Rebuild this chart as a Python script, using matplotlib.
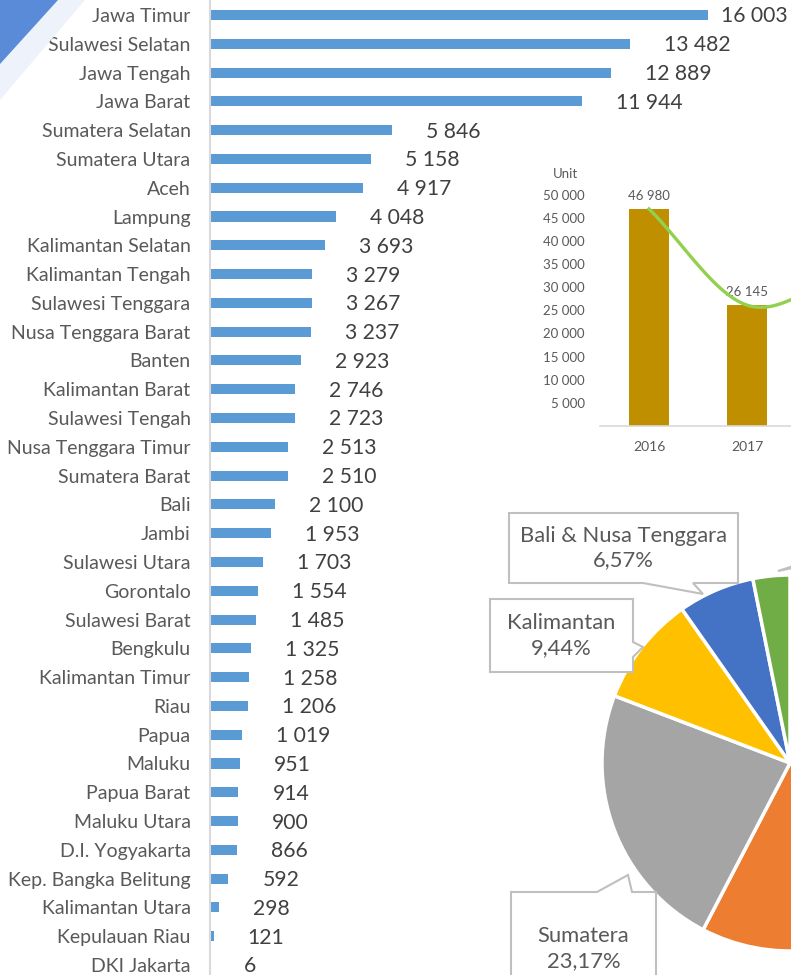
import numpy as np
import matplotlib
matplotlib.use("Agg")
import matplotlib.pyplot as plt
from matplotlib.patches import Polygon

plt.rcParams["font.family"] = ["Lato", "DejaVu Sans"]

# units per province
provinces = [
    "Jawa Timur", "Sulawesi Selatan", "Jawa Tengah", "Jawa Barat", "Sumatera Selatan",
    "Sumatera Utara", "Aceh", "Lampung", "Kalimantan Selatan", "Kalimantan Tengah",
    "Sulawesi Tenggara", "Nusa Tenggara Barat", "Banten", "Kalimantan Barat",
    "Sulawesi Tengah", "Nusa Tenggara Timur", "Sumatera Barat", "Bali", "Jambi",
    "Sulawesi Utara", "Gorontalo", "Sulawesi Barat", "Bengkulu", "Kalimantan Timur",
    "Riau", "Papua", "Maluku", "Papua Barat", "Maluku Utara", "D.I. Yogyakarta",
    "Kep. Bangka Belitung", "Kalimantan Utara", "Kepulauan Riau", "DKI Jakarta",
]
units = [
    16003, 13482, 12889, 11944, 5846, 5158, 4917, 4048, 3693, 3279, 3267, 3237,
    2923, 2746, 2723, 2513, 2510, 2100, 1953, 1703, 1554, 1485, 1325, 1258,
    1206, 1019, 951, 914, 900, 866, 592, 298, 121, 6,
]

# yearly totals (2018 is off the crop, estimated from the curve)
years = ["2016", "2017", "2018"]
year_units = [46980, 26145, 33000]

# regional totals for the pie
regions = ["Sulawesi", "Jawa", "Sumatera", "Kalimantan", "Bali & Nusa Tenggara", "Maluku & Papua"]
region_units = [24214, 44631, 27676, 11274, 7850, 3784]
region_colors = ["#5B9BD5", "#ED7D31", "#A5A5A5", "#FFC000", "#4472C4", "#70AD47"]

W, H = 791, 975
fig = plt.figure(figsize=(W / 100, H / 100), dpi=100)


def fmt(v):
    return f"{v:,}".replace(",", " ")


# ---- main horizontal bars ----
ax = fig.add_axes([210 / W, 0, 581 / W, 1])
y = np.arange(len(provinces))
ax.barh(y, units, height=0.35, color="#5B9BD5")
xmax = 18670
ax.set_yticks(y)
ax.set_yticklabels(provinces, fontsize=14, color="#595959")
ax.set_xticks([])
ax.set_xlim(0, xmax)
ax.set_ylim(len(provinces) - 1 + 10 / 28.8, -15 / 28.8)
ax.tick_params(axis="y", length=0, pad=14)
for s in ["top", "right", "bottom"]:
    ax.spines[s].set_visible(False)
ax.spines["left"].set_color("#D9D9D9")
ax.spines["left"].set_linewidth(1.5)
ax.patch.set_alpha(0)

gap = 34 / 581 * xmax
for yi, v in zip(y, units):
    ax.text(min(v + gap, 16420), yi + 0.05, fmt(v), va="center", ha="left",
            fontsize=15.2, color="#404040")

# ---- inset: units per year ----
ins = fig.add_axes([600 / W, (H - 425.8) / H, 191 / W, (425.8 - 195) / H])
ins.patch.set_alpha(0)
xi = np.arange(len(years))
ins.bar(xi, year_units, width=0.4, color="#BF8F00", zorder=2)
for x0, v in zip(xi, year_units):
    ins.annotate(fmt(v), (x0, v), xytext=(0, 5), textcoords="offset points",
                 ha="center", va="bottom", fontsize=9.5, color="#595959")

# smoothed line through the yearly values (cubic hermite, catmull-rom tangents)
p = np.array(year_units, dtype=float)
m = np.zeros_like(p)
m[1:-1] = (p[2:] - p[:-2]) / 2
m[0] = p[1] - p[0]
m[-1] = p[-1] - p[-2]
t = np.linspace(0, 1, 60)
h00 = 2 * t**3 - 3 * t**2 + 1
h10 = t**3 - 2 * t**2 + t
h01 = -2 * t**3 + 3 * t**2
h11 = t**3 - t**2
lx, ly = [], []
for i in range(len(p) - 1):
    lx.append(i + t)
    ly.append(h00 * p[i] + h10 * m[i] + h01 * p[i + 1] + h11 * m[i + 1])
ins.plot(np.concatenate(lx), np.concatenate(ly), color="#92D050", lw=2.4, zorder=3)

ins.set_xticks(xi)
ins.set_xticklabels(years, fontsize=10, color="#595959")
ins.set_yticks(np.arange(5000, 50001, 5000))
ins.set_yticklabels([fmt(v) for v in range(5000, 50001, 5000)], fontsize=9.5, color="#595959")
ins.set_xlim(-0.5, -0.5 + 191 / 98)
ins.set_ylim(0, 50000)
ins.tick_params(length=0)
ins.tick_params(axis="y", pad=11)
ins.tick_params(axis="x", pad=11)
for s in ["top", "right", "left"]:
    ins.spines[s].set_visible(False)
ins.spines["bottom"].set_color("#D9D9D9")
ins.spines["bottom"].set_linewidth(1.2)
fig.text(565 / W, 1 - 174 / H, "Unit", ha="center", va="center", fontsize=9.5, color="#595959")

# ---- overlay in pixel coords: corner shape, pie, callouts ----
ov = fig.add_axes([0, 0, 1, 1])
ov.pie(region_units, colors=region_colors, startangle=90, counterclock=False,
       center=(790, H - 763), radius=188,
       wedgeprops=dict(edgecolor="white", linewidth=2.5))
ov.set_xlim(0, W)
ov.set_ylim(0, H)
ov.set_aspect("auto")
ov.set_axis_off()

ov.add_patch(Polygon([(0, H), (85, H), (0, H - 100)], closed=True, fc="#eef2fa", ec="none"))
ov.add_patch(Polygon([(0, H), (58, H), (0, H - 64)], closed=True, fc="#5a8bd9", ec="none"))

total = sum(region_units)


def callout(x0, x1, yt, yb, side, a, b, tip, text=None):
    if side == "bottom":
        pts = [(x0, yt), (x1, yt), (x1, yb), (b, yb), tip, (a, yb), (x0, yb)]
    elif side == "right":
        pts = [(x0, yt), (x1, yt), (x1, a), tip, (x1, b), (x1, yb), (x0, yb)]
    else:
        pts = [(x0, yt), (a, yt), tip, (b, yt), (x1, yt), (x1, yb), (x0, yb)]
    ov.add_patch(Polygon([(px, H - py) for px, py in pts], closed=True,
                         fc="white", ec="#BFBFBF", lw=1.5, zorder=5))
    if text:
        ov.text((x0 + x1) / 2, H - (yt + yb) / 2, text, ha="center", va="center",
                fontsize=15.8, color="#595959", linespacing=1.3, zorder=6)


def lab(name):
    pct = region_units[regions.index(name)] / total * 100
    return f"{name}\n{pct:.2f}%".replace(".", ",")


callout(509, 738, 513, 583, "bottom", 643, 693, (703, 594), lab("Bali & Nusa Tenggara"))
callout(490, 633, 599, 672, "right", 642, 657, (643, 647), lab("Kalimantan"))
callout(511, 656, 892, 1005, "top", 597, 632, (628, 875), lab("Sumatera"))
# Maluku & Papua callout sits off the crop; only its pointer shows
callout(808, 968, 490, 560, "bottom", 812, 830, (778, 571))

fig.savefig("out.png", dpi=100)
